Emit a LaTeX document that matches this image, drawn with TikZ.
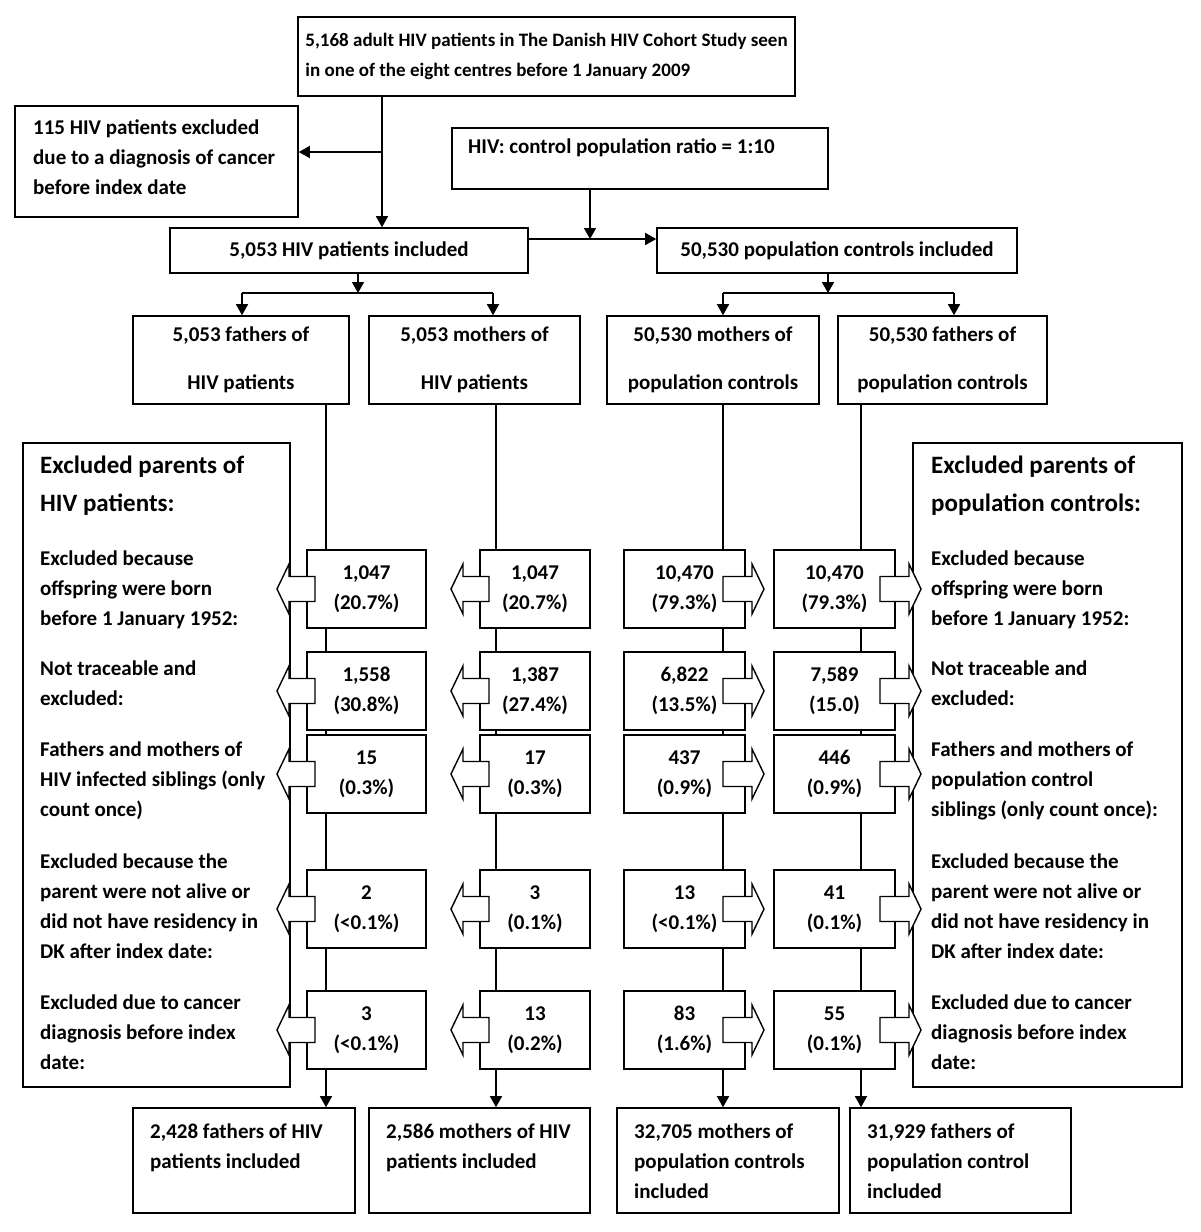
\documentclass[tikz,border=0pt]{standalone}
\usepackage{fontspec}
\setmainfont{Carlito}
\usetikzlibrary{arrows.meta}
\begin{document}
\begin{tikzpicture}[x=1pt,y=-1pt,
  every node/.style={inner sep=0pt, font=\fontsize{21}{30}\selectfont\bfseries},
  box/.style={draw, line width=1.6pt, rectangle},
  txt/.style={anchor=north west, align=left},
  ttl/.style={anchor=north west, align=left, font=\fontsize{25}{38}\selectfont\bfseries},
  ln/.style={line width=1.6pt},
  arr/.style={line width=1.6pt, -{Triangle[length=11pt,width=12pt]}},
  larrow/.pic={\draw[line width=1.4pt, fill=white] (0,0) -- (12,-25) -- (12,-12.5) -- (38,-12.5) -- (38,12.5) -- (12,12.5) -- (12,25) -- cycle;},
  rarrow/.pic={\draw[line width=1.4pt, fill=white] (0,0) -- (-12,-25) -- (-12,-12.5) -- (-41,-12.5) -- (-41,12.5) -- (-12,12.5) -- (-12,25) -- cycle;}
]
\useasboundingbox (0,0) rectangle (1200,1232);

% top part
\node[box, minimum width=497pt, minimum height=79pt, align=left, font=\fontsize{19}{30}\selectfont\bfseries] (top) at (546.5,56.5)
  {5,168 adult HIV patients in The Danish HIV Cohort Study seen\\in one of the eight centres before 1 January 2009};
\node[box, minimum width=283pt, minimum height=111pt] (excl) at (156.5,161.5) {};
\node[txt] (excltxt) at (33,120) {115 HIV patients excluded\\due to a diagnosis of cancer\\before index date};
\node[box, minimum width=376pt, minimum height=61pt] (ratio) at (640,158.5) {};
\node[txt] (ratiotxt) at (468,139) {HIV: control population ratio = 1:10};
\node[box, minimum width=358pt, minimum height=45pt] (hivinc) at (349,250.5) {5,053 HIV patients included};
\node[box, minimum width=360pt, minimum height=45pt] (pcinc) at (837,250.5) {50,530 population controls included};

% parents boxes
\node[box, minimum width=216pt, minimum height=88pt, align=center] (fhiv) at (241,360) {5,053 fathers of\\[18pt]HIV patients};
\node[box, minimum width=211pt, minimum height=88pt, align=center] (mhiv) at (474.5,360) {5,053 mothers of\\[18pt]HIV patients};
\node[box, minimum width=212pt, minimum height=88pt, align=center] (mpc) at (713,360) {50,530 mothers of\\[18pt]population controls};
\node[box, minimum width=209pt, minimum height=88pt, align=center] (fpc) at (942.5,360) {50,530 fathers of\\[18pt]population controls};

% exclusion boxes
\node[box, minimum width=267pt, minimum height=644pt] (exL) at (156.5,765) {};
\node[box, minimum width=269pt, minimum height=644pt] (exR) at (1047.5,765) {};

\node[ttl] (tL) at (40,456) {Excluded parents of\\HIV patients:};
\node[ttl] (tR) at (931,456) {Excluded parents of\\population controls:};

\node[txt] (l1) at (40,551) {Excluded because\\offspring were born\\before 1 January 1952:};
\node[txt] (l2) at (40,661) {Not traceable and\\excluded:};
\node[txt] (l3) at (40,742) {Fathers and mothers of\\HIV infected siblings (only\\count once)};
\node[txt] (l4) at (40,854) {Excluded because the\\parent were not alive or\\did not have residency in\\DK after index date:};
\node[txt] (l5) at (40,995) {Excluded due to cancer\\diagnosis before index\\date:};

\node[txt] (r1) at (931,551) {Excluded because\\offspring were born\\before 1 January 1952:};
\node[txt] (r2) at (931,661) {Not traceable and\\excluded:};
\node[txt] (r3) at (931,742) {Fathers and mothers of\\population control\\siblings (only count once):};
\node[txt] (r4) at (931,854) {Excluded because the\\parent were not alive or\\did not have residency in\\DK after index date:};
\node[txt] (r5) at (931,995) {Excluded due to cancer\\diagnosis before index\\date:};

% number boxes
\tikzset{nb/.style={box, minimum height=78pt, align=center}}
\foreach \n/\y/\a/\b/\c/\d in {
  1/589/{1,047\\(20.7\%)}/{1,047\\(20.7\%)}/{10,470\\(79.3\%)}/{10,470\\(79.3\%)},
  2/691/{1,558\\(30.8\%)}/{1,387\\(27.4\%)}/{6,822\\(13.5\%)}/{7,589\\(15.0)},
  3/774/{15\\(0.3\%)}/{17\\(0.3\%)}/{437\\(0.9\%)}/{446\\(0.9\%)},
  4/909/{2\\(<0.1\%)}/{3\\(0.1\%)}/{13\\(<0.1\%)}/{41\\(0.1\%)},
  5/1030/{3\\(<0.1\%)}/{13\\(0.2\%)}/{83\\(1.6\%)}/{55\\(0.1\%)}}{
  \node[nb, minimum width=119pt] (a\n) at (366.5,\y) {\a};
  \node[nb, minimum width=110pt] (b\n) at (535,\y) {\b};
  \node[nb, minimum width=121pt] (c\n) at (684.5,\y) {\c};
  \node[nb, minimum width=121pt] (d\n) at (834.5,\y) {\d};
}

% bottom boxes
\node[box, minimum width=222pt, minimum height=105pt] (ba) at (244,1160.5) {};
\node[box, minimum width=221pt, minimum height=105pt] (bb) at (479.5,1160.5) {};
\node[box, minimum width=222pt, minimum height=105pt] (bc) at (728,1160.5) {};
\node[box, minimum width=221pt, minimum height=105pt] (bd) at (960.5,1160.5) {};
\node[txt] (tba) at (150,1124) {2,428 fathers of HIV\\patients included};
\node[txt] (tbb) at (386,1124) {2,586 mothers of HIV\\patients included};
\node[txt] (tbc) at (634,1124) {32,705 mothers of\\population controls\\included};
\node[txt] (tbd) at (867,1124) {31,929 fathers of\\population control\\included};

% coordinates
\coordinate (cT) at (382,0);
\coordinate (j1) at (382,152);
\coordinate (j2) at (590,239);
\coordinate (s1) at (358,293);
\coordinate (s2) at (828,293);
\coordinate (aL) at (242,0);
\coordinate (aR) at (493,0);
\coordinate (pL) at (723,0);
\coordinate (pR) at (954,0);
\coordinate (colA) at (326,0);
\coordinate (colB) at (496,0);
\coordinate (colC) at (723,0);
\coordinate (colD) at (861,0);

% top connectors
\draw[arr] (top.south -| cT) -- (hivinc.north -| cT);
\draw[arr] (j1) -- (j1 -| excl.east);
\draw[arr] (ratio.south -| j2) -- (j2);
\draw[arr] (hivinc.east |- j2) -- (pcinc.west |- j2);
\draw[arr] (hivinc.south -| s1) -- (s1);
\draw[ln] (s1 -| aL) -- (s1 -| aR);
\draw[arr] (s1 -| aL) -- (fhiv.north -| aL);
\draw[arr] (s1 -| aR) -- (mhiv.north -| aR);
\draw[arr] (pcinc.south -| s2) -- (s2);
\draw[ln] (s2 -| pL) -- (s2 -| pR);
\draw[arr] (s2 -| pL) -- (mpc.north -| pL);
\draw[arr] (s2 -| pR) -- (fpc.north -| pR);

% column connectors
\draw[ln] (fhiv.south -| colA) -- (a1.north -| colA);
\draw[ln] (mhiv.south -| colB) -- (b1.north -| colB);
\draw[ln] (mpc.south -| colC) -- (c1.north -| colC);
\draw[ln] (fpc.south -| colD) -- (d1.north -| colD);
\foreach \i/\j in {1/2,2/3,3/4,4/5}{
  \draw[ln] (a\i.south -| colA) -- (a\j.north -| colA);
  \draw[ln] (b\i.south -| colB) -- (b\j.north -| colB);
  \draw[ln] (c\i.south -| colC) -- (c\j.north -| colC);
  \draw[ln] (d\i.south -| colD) -- (d\j.north -| colD);
}
\draw[arr] (a5.south -| colA) -- (ba.north -| colA);
\draw[arr] (b5.south -| colB) -- (bb.north -| colB);
\draw[arr] (c5.south -| colC) -- (bc.north -| colC);
\draw[arr] (d5.south -| colD) -- (bd.north -| colD);

% block arrows
\foreach \y in {589,691,774,909,1030}{
  \pic at (277,\y) {larrow};
  \pic at (451,\y) {larrow};
  \pic at (764,\y) {rarrow};
  \pic at (921,\y) {rarrow};
}
\end{tikzpicture}
\end{document}
